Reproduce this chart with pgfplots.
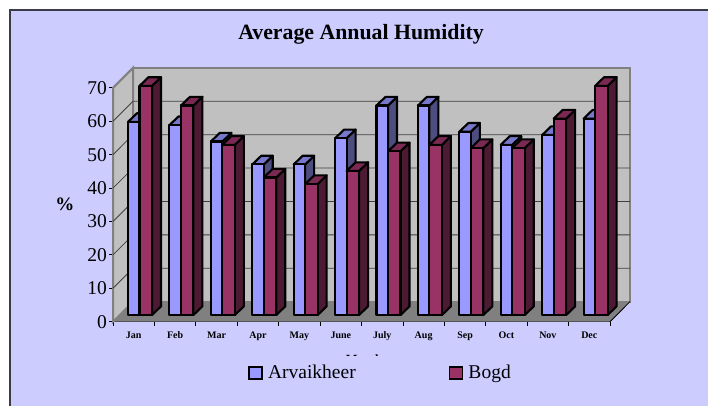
\documentclass[border=0pt]{standalone}
\usepackage{fontspec}
\setmainfont{Liberation Serif}
\usepackage{pgfplots}
\pgfplotsset{compat=1.18}
\definecolor{bg}{HTML}{CCCCFF}
\definecolor{frame}{HTML}{3A3A48}
\definecolor{wall}{HTML}{C0C0C0}
\definecolor{floorc}{HTML}{808080}
\definecolor{blue1}{HTML}{9999FF}
\definecolor{blue2}{HTML}{7777CC}
\definecolor{blue3}{HTML}{4D4D80}
\definecolor{red1}{HTML}{993366}
\definecolor{red2}{HTML}{7A2952}
\definecolor{red3}{HTML}{4D1A33}
\pgfplotsset{swatch/.style={legend image code/.code={\draw[##1] (0pt,-6pt) rectangle (13pt,6pt);}}}

% one 3d bar: left x, right x, value, front, top, side colour
\newcommand{\onebar}[6]{%
  \pgfmathsetmacro\xa{#1}\pgfmathsetmacro\xb{#2}%
  \pgfmathsetmacro\xc{#2+0.2174}\pgfmathsetmacro\xd{#1+0.2174}%
  \pgfmathsetmacro\yt{#3*0.98+2}\pgfmathsetmacro\yu{\yt+2.6}%
  \addplot[fill=#6,barline] coordinates {(\xb,2) (\xc,4.6) (\xc,\yu) (\xb,\yt)} --cycle;
  \addplot[fill=#5,barline] coordinates {(\xa,\yt) (\xb,\yt) (\xc,\yu) (\xd,\yu)} --cycle;
  \addplot[fill=#4,barline] coordinates {(\xa,2) (\xb,2) (\xb,\yt) (\xa,\yt)} --cycle;
}
% month index, Arvaikheer, Bogd
\newcommand{\monthbars}[3]{%
  \onebar{#1+0.3623}{#1+0.64}{#2}{blue1}{blue2}{blue3}
  \onebar{#1+0.64}{#1+0.942}{#3}{red1}{red2}{red3}
}
\begin{document}
\begin{tikzpicture}[x=1pt,y=1pt]
\path[use as bounding box] (0,0) rectangle (708,406);
\fill[white] (0,0) rectangle (708,406);
\fill[bg] (10,0) rectangle (708,396);
\draw[frame,line width=2pt] (10,0) -- (10,396) -- (708,396);
\begin{scope}
  \clip (300,50) rectangle (420,60);
  \node[anchor=base,inner sep=0pt,font=\bfseries\fontsize{12.5}{14}\selectfont] at (364,42.5) {Month};
\end{scope}
\begin{axis}[
    at={(113pt,84.3pt)}, anchor=south west,
    scale only axis, width=497pt, height=233.8pt,
    xmin=0, xmax=12, ymin=0, ymax=70,
    clip=false,
    axis x line=bottom, axis y line=left,
    axis line style={-, black, line width=0.8pt},
    barline/.style={draw=black, line width=2.1pt, line join=round},
    tick align=outside,
    xtick={0.5,1.5,2.5,3.5,4.5,5.5,6.5,7.5,8.5,9.5,10.5,11.5},
    xticklabels={Jan,Feb,Mar,Apr,May,June,July,Aug,Sep,Oct,Nov,Dec},
    major x tick style={draw=none},
    minor xtick={0,1,2,3,4,5,6,7,8,9,10,11,12},
    minor tick length=4pt,
    minor x tick style={black, line width=0.8pt},
    ytick={0,10,20,30,40,50,60,70},
    major tick length=4pt,
    major y tick style={black, line width=0.8pt},
    xticklabel style={font=\bfseries\fontsize{10}{11}\selectfont, yshift=-2.5pt},
    yticklabel style={font=\fontsize{19.5}{20}\selectfont, /pgf/number format/assume math mode=true, xshift=1.5pt},
    title={Average Annual Humidity},
    title style={at={(axis description cs:0.499,1.205)}, anchor=center, font=\bfseries\fontsize{21.8}{24}\selectfont},
    ylabel={\%},
    ylabel style={rotate=-90, at={(axis description cs:-0.097,0.5)}, anchor=center, font=\bfseries\fontsize{19}{20}\selectfont},
    legend columns=2,
    legend style={draw=none, fill=none, at={(axis description cs:0.272,-0.219)}, anchor=west, inner sep=0pt, font=\fontsize{19.5}{20}\selectfont,
      /tikz/every even column/.append style={column sep=91pt}},
    legend cell align=left,
  ]
  % walls and floor
  \addplot[fill=wall,draw=floorc,line width=2pt,forget plot] coordinates {(0.483,6) (12.483,6) (12.483,76) (0.483,76)} --cycle;
  \addplot[fill=wall,draw=floorc,line width=2pt,forget plot] coordinates {(0,0) (0.483,6) (0.483,76) (0,70)} --cycle;
  \addplot[fill=floorc,draw=none,forget plot] coordinates {(0,0) (12,0) (12.483,6) (0.483,6)} --cycle;
  \addplot[black,line width=0.8pt,forget plot] coordinates {(12,0) (12.483,6)};
  % gridlines on back and left wall
  \addplot[black!75,line width=0.8pt,forget plot] coordinates {(0,10) (0.483,16) (12.483,16)};
  \addplot[black!75,line width=0.8pt,forget plot] coordinates {(0,20) (0.483,26) (12.483,26)};
  \addplot[black!75,line width=0.8pt,forget plot] coordinates {(0,30) (0.483,36) (12.483,36)};
  \addplot[black!75,line width=0.8pt,forget plot] coordinates {(0,40) (0.483,46) (12.483,46)};
  \addplot[black!75,line width=0.8pt,forget plot] coordinates {(0,50) (0.483,56) (12.483,56)};
  \addplot[black!75,line width=0.8pt,forget plot] coordinates {(0,60) (0.483,66) (12.483,66)};
  % bars
  \pgfplotsset{every axis plot/.append style={forget plot}}
  \monthbars{0}{59}{70}
  \monthbars{1}{58}{64}
  \monthbars{2}{53}{52}
  \monthbars{3}{46}{42}
  \monthbars{4}{46}{40}
  \monthbars{5}{54}{44}
  \monthbars{6}{64}{50}
  \monthbars{7}{64}{52}
  \monthbars{8}{56}{51}
  \monthbars{9}{52}{51}
  \monthbars{10}{55}{60}
  \monthbars{11}{60}{70}
  \pgfplotsset{every axis plot/.append style={forget plot=false}}
  \addlegendimage{swatch, fill=blue1, draw=black, line width=1.7pt}
  \addlegendentry{\hspace*{3pt}Arvaikheer}
  \addlegendimage{swatch, fill=red1, draw=black, line width=1.7pt}
  \addlegendentry{\hspace*{3pt}Bogd}
\end{axis}
\end{tikzpicture}
\end{document}
